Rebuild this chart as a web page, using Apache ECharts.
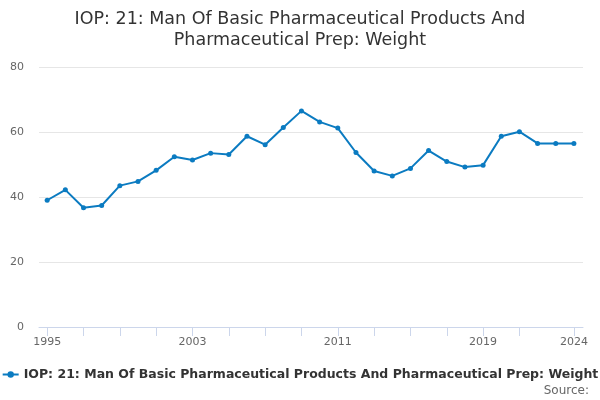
<!DOCTYPE html>
<html>
<head>
<meta charset="utf-8">
<script src="https://cdn.jsdelivr.net/npm/echarts@6/dist/echarts.min.js"></script>
<style>html,body{margin:0;padding:0;background:#fff}#c{width:600px;height:400px}</style>
</head>
<body>
<div id="c"></div>
<script>
const years = [1995,1996,1997,1998,1999,2000,2001,2002,2003,2004,2005,2006,2007,2008,2009,2010,2011,2012,2013,2014,2015,2016,2017,2018,2019,2020,2021,2022,2023,2024];
const values = [39.0,42.2,36.7,37.4,43.5,44.8,48.2,52.4,51.4,53.5,53.1,58.7,56.1,61.4,66.5,63.1,61.2,53.7,48.0,46.5,48.8,54.3,50.9,49.2,49.8,58.7,60.1,56.5,56.5,56.5];
const xLabelYears = [1995,2003,2011,2019,2024];
const xTickYears = [1995,1997,1999,2001,2003,2005,2007,2009,2011,2013,2015,2017,2019,2021,2024];
const seriesName = 'IOP: 21: Man Of Basic Pharmaceutical Products And Pharmaceutical Prep: Weight';
const titleText = 'IOP: 21: Man Of Basic Pharmaceutical Products And\nPharmaceutical Prep: Weight';

const chart = echarts.init(document.getElementById('c'), null, {renderer: 'canvas'});
const font = 'DejaVu Sans';
chart.setOption({
  animation: false,
  title: {
    text: titleText,
    left: 'center',
    top: 4,
    textStyle: {fontFamily: font, fontSize: 17.5, fontWeight: 'normal', color: '#333', lineHeight: 21}
  },
  grid: {left: 39, right: 17, top: 67, bottom: 73},
  xAxis: {
    type: 'value',
    min: 1994.55,
    max: 2024.5,
    splitLine: {show: false},
    axisLine: {show: true, lineStyle: {color: '#ccd6eb'}},
    axisTick: {show: true, length: 9, lineStyle: {color: '#ccd6eb'}, customValues: xTickYears},
    axisLabel: {customValues: xLabelYears, fontFamily: font, fontSize: 11, color: '#666', margin: 10, formatter: v => String(v)}
  },
  yAxis: {
    type: 'value',
    min: 0, max: 80, interval: 20,
    axisLine: {show: false},
    axisTick: {show: false},
    splitLine: {lineStyle: {color: '#e6e6e6'}},
    axisLabel: {fontFamily: font, fontSize: 11, color: '#666', margin: 15}
  },
  legend: {
    bottom: 14,
    left: 'center',
    itemWidth: 16,
    itemHeight: 8,
    itemGap: 5,
    textStyle: {fontFamily: font, fontSize: 12.5, fontWeight: 'bold', color: '#333'},
    data: [seriesName]
  },
  graphic: [{
    type: 'text',
    right: 11,
    bottom: 3,
    style: {text: 'Source:', fontFamily: font, fontSize: 12, fill: '#666'}
  }],
  series: [{
    name: seriesName,
    type: 'line',
    data: years.map((y, i) => [y, values[i]]),
    symbol: 'circle',
    symbolSize: 5,
    lineStyle: {width: 2, color: '#0b7bc1'},
    itemStyle: {color: '#0b7bc1'}
  }]
});
</script>
</body>
</html>
